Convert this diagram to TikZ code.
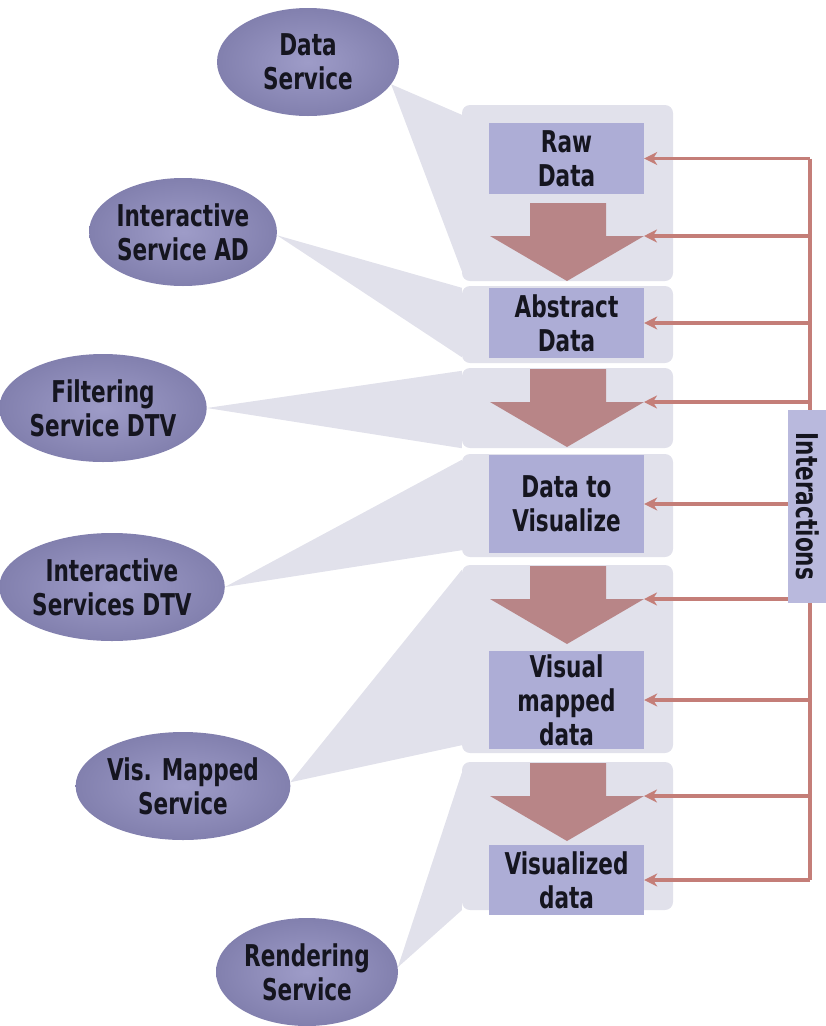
\documentclass[tikz,border=0pt]{standalone}
\usepackage{fontspec}
\newfontfamily\diagfont{DejaVu Sans Condensed Bold}[FakeStretch=0.8]
\usetikzlibrary{shapes.geometric, arrows.meta, calc}

\definecolor{panelgray}{HTML}{E1E1EB}
\definecolor{stageblue}{HTML}{ADADD6}
\definecolor{ovalin}{HTML}{9E9CC8}
\definecolor{ovalout}{HTML}{8280AE}
\definecolor{flowred}{HTML}{B88587}
\definecolor{interred}{HTML}{C47E78}
\definecolor{interblue}{HTML}{B9B9DD}
\definecolor{labelink}{HTML}{15151F}

\begin{document}
\begin{tikzpicture}[x=1pt, y=-1pt,
  lbl/.style={align=center, text=labelink, font=\diagfont\fontsize{30}{34}\selectfont},
  service/.style={lbl, ellipse, inner color=ovalin, outer color=ovalout, minimum width=182pt, minimum height=108pt, inner sep=0pt},
  panel/.style={fill=panelgray, rounded corners=8pt, minimum width=211pt, inner sep=0pt},
  cone/.style={fill=panelgray},
  stage/.style={lbl, fill=stageblue, minimum width=155pt, inner sep=0pt},
  flow/.style={fill=flowred},
  interbus/.style={draw=interred, line width=3.2pt},
  inter/.style={interbus, -{Stealth[length=13pt, width=13pt, inset=4pt]}}]
  \useasboundingbox (0,0) rectangle (826,1026);

  % panels behind the pipeline
  \node[panel, minimum height=176pt] (p1) at (567.5,193) {};
  \node[panel, minimum height=77pt]  (p2) at (567.5,324.5) {};
  \node[panel, minimum height=80pt]  (p3) at (567.5,408) {};
  \node[panel, minimum height=103pt] (p4) at (567.5,505.5) {};
  \node[panel, minimum height=188pt] (p5) at (567.5,659) {};
  \node[panel, minimum height=148pt] (p6) at (567.5,836) {};

  % services
  \node[service] (dsv)  at (308,62)  {Data\\Service};
  \node[service] (isad) at (183,232) {Interactive\\Service AD};
  \node[service] (fsv)  at (103,408) {Filtering\\Service DTV};
  \node[service] (isv)  at (112,587) {Interactive\\Services DTV};
  \node[service] (vmsv) at (183,786) {Vis. Mapped\\Service};
  \node[service] (rsv)  at (307,972) {Rendering\\Service};

  \fill[cone] (dsv.-15) -- ($(p1.north west)+(0,10)$) -- ($(p1.south west)+(0,-10)$) -- cycle;
  \fill[cone] (isad.-2) -- ($(p2.north west)+(0,2)$) -- ($(p2.south west)+(0,-6)$) -- cycle;
  \fill[cone] (fsv.0)   -- ($(p3.north west)+(0,3)$) -- (p3.south west) -- cycle;
  \fill[cone] (isv.0)   -- ($(p4.north west)+(0,6)$) -- ($(p4.south west)+(0,-7)$) -- cycle;
  \fill[cone] (vmsv.2)  -- ($(p5.north west)+(0,5)$) -- ($(p5.south west)+(0,-8)$) -- cycle;
  \fill[cone] (rsv.3)   -- ($(p6.north west)+(0,11)$) -- (p6.south west) -- cycle;

  % big flow arrows
  \foreach \t/\n in {203/1, 369/2, 566/3, 763/4} {
    \fill[flow] (530,\t) -- (606,\t) -- (606,\t+33) -- (644,\t+33)
      -- (567,\t+78) -- (490,\t+33) -- (530,\t+33) -- cycle;
    \coordinate (ah\n) at (644,\t+33);
  }

  % stages
  \node[stage, minimum height=71pt] (raw) at (566.5,158.5) {Raw\\Data};
  \node[stage, minimum height=70pt] (abs) at (566.5,323)   {Abstract\\Data};
  \node[stage, minimum height=98pt] (dtv) at (566.5,504)   {Data to\\Visualize};
  \node[stage, minimum height=98pt] (vmd) at (566.5,700)   {Visual\\mapped\\data};
  \node[stage, minimum height=70pt] (vis) at (566.5,880)   {Visualized\\data};

  % interactions
  \coordinate (bus) at (810,0);
  \draw[interbus] (raw -| bus) -- (vis -| bus);
  \foreach \t in {raw, ah1, abs, ah2, dtv, ah3, vmd, ah4, vis}
    \draw[inter] (\t -| bus) -- (\t);

  \node[lbl, fill=interblue, rotate=-90, minimum width=193pt, minimum height=40pt, inner sep=0pt] (ia) at (808,506.5) {Interactions};
\end{tikzpicture}
\end{document}
